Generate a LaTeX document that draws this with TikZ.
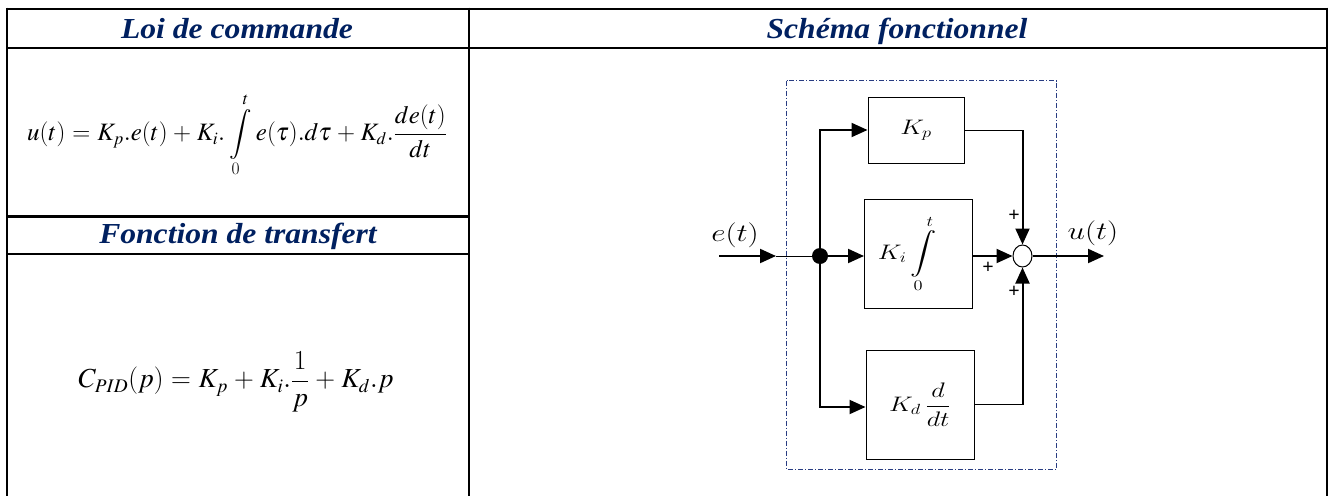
\RequirePackage{fix-cm}
\documentclass[tikz,border=0pt]{standalone}
\usepackage{fontspec}
\setmainfont{Liberation Serif}
\usetikzlibrary{arrows.meta,shapes.geometric}
\DeclareFontShape{OMX}{cmex}{m}{n}{<->cmex10}{}
\DeclareMathVersion{times}
\SetSymbolFont{operators}{times}{OT1}{ztmcm}{m}{n}
\SetSymbolFont{letters}{times}{OML}{ztmcm}{m}{it}
\SetSymbolFont{symbols}{times}{OMS}{ztmcm}{m}{n}
\SetSymbolFont{largesymbols}{times}{OMX}{ztmcm}{m}{n}
\definecolor{navy}{RGB}{0,32,96}
\definecolor{dashblue}{RGB}{40,60,130}
\newcommand{\widen}[1]{\scalebox{1.25}[1]{#1}}
\newcommand{\headw}[1]{\scalebox{1.09}[1]{#1}}
\tikzset{
  tabline/.style={line width=2.6pt, line cap=rect},
  head/.style={text=navy, font=\fontsize{29}{31}\selectfont\bfseries\itshape, inner sep=0pt, anchor=base},
  formula/.style={inner sep=0pt, font=\fontsize{25}{27}\selectfont\mathversion{times}},
  blockbox/.style={draw, line width=1pt, inner sep=0pt, font=\fontsize{21}{23}\selectfont},
  thickline/.style={line width=2pt},
  thinline/.style={line width=1pt},
  arr/.style={-{Triangle[length=16pt,width=14pt]}},
  sig/.style={inner sep=0pt, font=\fontsize{25}{27}\selectfont},
  plus/.style={inner sep=0pt, font=\fontsize{20}{20}\selectfont\bfseries},
  dashdotbox/.style={draw=dashblue, line width=0.8pt, dash pattern=on 5pt off 2pt on 1pt off 2pt}
}
\begin{document}
\begin{tikzpicture}[x=1pt,y=-1pt]
\useasboundingbox (0,0) rectangle (1332,495);
% table
\draw[tabline] (7,9) -- (1327,9);
\draw[tabline] (7,48) -- (1327,48);
\draw[tabline] (7,216.5) -- (469,216.5);
\draw[tabline] (7,254) -- (469,254);
\draw[line width=2.6pt] (7,7.7) -- (7,496);
\draw[line width=2.6pt] (469,7.7) -- (469,496);
\draw[line width=2.6pt] (1327,7.7) -- (1327,496);
% headers
\node[head] (h1) at (237,38) {\headw{Loi de commande}};
\node[head] (h2) at (238,243.5) {\headw{Fonction de transfert}};
\node[head] (h3) at (897,38) {\headw{Schéma fonctionnel}};
% formulas
\node[formula] (f1) at (237,135) {$\displaystyle u(t)=K_p.e(t)+K_i.\int\limits_0^t e(\tau).d\tau+K_d.\frac{de(t)}{dt}$};
\node[formula, font=\fontsize{27.5}{29}\selectfont\mathversion{times}] (f2) at (236,382) {$\displaystyle C_{PID}(p)=K_p+K_i.\frac{1}{p}+K_d.p$};
% diagram
\draw[dashdotbox] (786.7,80.7) rectangle (1056.7,469.3);
\node[blockbox, minimum width=96pt, minimum height=66pt] (Kp) at (916,130) {\widen{$K_p$}};
\node[blockbox, minimum width=108pt, minimum height=109pt] (Ki) at (918.5,254) {\widen{$\displaystyle K_i\int\limits_0^t$}\hspace*{22pt}};
\node[blockbox, minimum width=108pt, minimum height=109pt] (Kd) at (920,404.5) {\raisebox{10pt}{\widen{$\displaystyle K_d\,\frac{d}{dt}$}}};
\node[circle, fill=black, minimum size=16pt, inner sep=0pt] (J) at (820,256) {};
\node[ellipse, draw, line width=1pt, minimum width=19pt, minimum height=22pt, inner sep=0pt] (S) at (1022.5,256) {};
\coordinate (ein) at (719,256);
\coordinate (etip) at (776,256);
\coordinate (uout) at (1104,256);
\draw[thickline, arr] (ein) -- (etip);
\draw[thinline] (etip) -- (J);
\draw[thickline, arr] (J) -- (J -| Ki.west);
\draw[thickline, arr] (J.center) |- (Kp.west);
\draw[thickline, arr] (J.center) |- ([yshift=-2.5pt]Kd.west);
\draw[thinline] (Kp.east) -- (S |- Kp.east);
\draw[thickline, arr] (S |- Kp.east) -- (S.north);
\draw[thinline] (Kd.east) -- (S |- Kd.east);
\draw[thickline, arr] (S |- Kd.east) -- (S.south);
\draw[thickline, arr] (Ki.east |- S) -- (S.west);
\draw[thickline, arr] (S.east) -- (uout);
\node[sig] (el) at (735,235) {\widen{$e(t)$}};
\node[sig] (ul) at (1093,233) {\widen{$u(t)$}};
\node[plus] (p1) at (1014,216) {+};
\node[plus] (p2) at (988,268) {+};
\node[plus] (p3) at (1014,292) {+};
\end{tikzpicture}
\end{document}
